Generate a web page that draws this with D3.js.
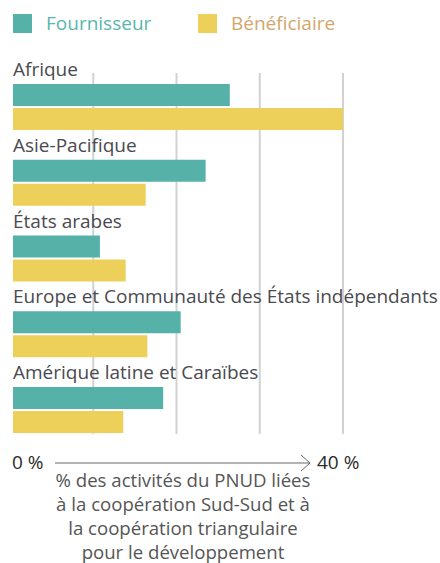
<!DOCTYPE html>
<html>
<head>
<meta charset="utf-8">
<script src="https://cdn.jsdelivr.net/npm/d3@7"></script>
<style>
  body { margin: 0; background: #fff; }
  text { font-family: "Open Sans", sans-serif; }
</style>
</head>
<body>
<div id="chart"></div>
<script>
// regions, top to bottom
var regions = ["Afrique", "Asie-Pacifique", "États arabes",
    "Europe et Communauté des États indépendants", "Amérique latine et Caraïbes"];
var fournisseur = [26.4, 23.5, 10.8, 20.5, 18.4];
var beneficiaire = [40, 16.3, 13.9, 16.5, 13.6];
var seriesNames = ["Fournisseur", "Bénéficiaire"];
var gridTicks = [10, 20, 30, 40];
var axisLabels = ["0 %", "40 %"];
var titleLines = ["% des activités du PNUD liées", "à la coopération Sud-Sud et à",
    "la coopération triangulaire", "pour le développement"];

function drawChart() {
    var width = 440, height = 563,
        left = 13;

    var colors = ["#56b2a8", "#edd05a"],
        textColors = ["#5ab6ac", "#d3a66c"];

    var svg = d3.select("#chart").append("svg")
        .attr("width", width)
        .attr("height", height);

    var x = d3.scaleLinear().domain([0, 40]).range([10, 343]);
    var y = d3.scaleBand().domain(regions).range([84, 84 + 75.75 * regions.length]);

    // legend
    var legend = svg.append("g").attr("class", "legend");
    seriesNames.forEach(function (name, i) {
        var g = legend.append("g").attr("transform", "translate(" + (left + i * 185) + ",14)");
        g.append("rect").attr("width", 19).attr("height", 19).attr("fill", colors[i]);
        g.append("text").attr("x", 33).attr("y", 16)
            .attr("font-size", 19)
            .attr("fill", textColors[i])
            .text(name);
    });

    // grid
    svg.append("g").attr("class", "grid")
        .selectAll("line")
        .data(gridTicks)
        .enter().append("line")
        .attr("x1", function (d) { return x(d); })
        .attr("x2", function (d) { return x(d); })
        .attr("y1", 73)
        .attr("y2", 434)
        .attr("stroke", "#d2d2d2")
        .attr("stroke-width", 2);

    var groups = svg.append("g").attr("class", "bars")
        .selectAll("g")
        .data(regions)
        .enter().append("g")
        .attr("transform", function (d) { return "translate(0," + y(d) + ")"; });

    groups.append("text")
        .attr("x", left)
        .attr("y", -8)
        .attr("font-size", 19)
        .attr("fill", "#4a4a4f")
        .text(function (d) { return d; });

    groups.append("rect")
        .attr("x", left)
        .attr("y", 0)
        .attr("height", 22)
        .attr("width", function (d, i) { return x(fournisseur[i]) - left; })
        .attr("fill", colors[0]);

    groups.append("rect")
        .attr("x", left)
        .attr("y", 24)
        .attr("height", 22)
        .attr("width", function (d, i) { return x(beneficiaire[i]) - left; })
        .attr("fill", colors[1]);

    // axis arrow
    var axisY = 463;
    svg.append("text").attr("x", 12).attr("y", axisY + 6)
        .attr("font-size", 19).attr("fill", "#2b2b2b").text(axisLabels[0]);
    svg.append("text").attr("x", 317).attr("y", axisY + 6)
        .attr("font-size", 19).attr("fill", "#2b2b2b").text(axisLabels[1]);
    svg.append("line")
        .attr("x1", 55).attr("x2", 310)
        .attr("y1", axisY).attr("y2", axisY)
        .attr("stroke", "#666").attr("stroke-width", 1);
    svg.append("path")
        .attr("d", "M" + 301 + "," + (axisY - 8) + "L" + 310 + "," + axisY + "L" + 301 + "," + (axisY + 8))
        .attr("fill", "none").attr("stroke", "#666").attr("stroke-width", 1);

    svg.append("g").attr("class", "title")
        .selectAll("text")
        .data(titleLines)
        .enter().append("text")
        .attr("x", 183)
        .attr("y", function (d, i) { return 487 + i * 24; })
        .attr("text-anchor", "middle")
        .attr("font-size", 18.6)
        .attr("fill", "#555")
        .text(function (d) { return d; });
}

drawChart();
</script>
</body>
</html>
